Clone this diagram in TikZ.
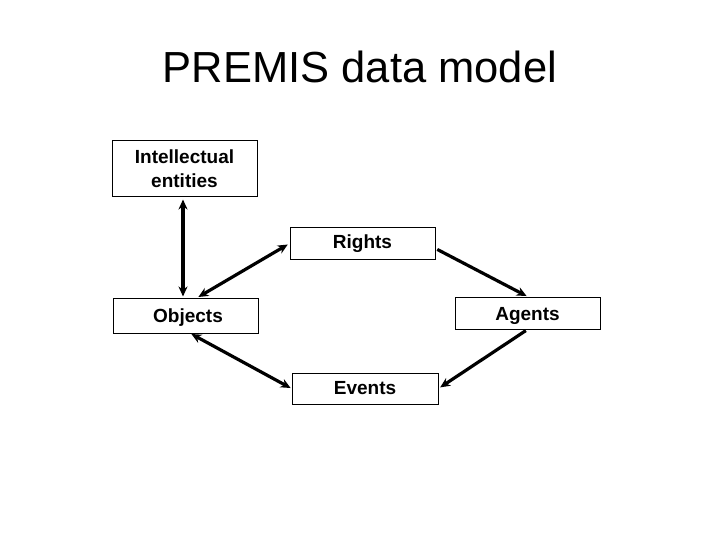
\documentclass[tikz,border=0pt]{standalone}
\usepackage{fontspec}
\setmainfont{Liberation Sans}
\usetikzlibrary{arrows.meta,calc}
\newcommand{\lowtext}[1]{\raisebox{-2.5pt}[\height][\depth]{#1}}
\begin{document}
\begin{tikzpicture}[x=1pt,y=-1pt,
  box/.style={draw=black,line width=1pt,inner sep=0pt,minimum width=145pt,align=center,font=\fontsize{19}{24}\selectfont\bfseries},
  link/.style={line width=3.2pt,-{Stealth[length=10pt,width=9pt]}},
  biline/.style={line width=3.2pt,{Stealth[length=10pt,width=9pt]}-{Stealth[length=10pt,width=9pt]}}]
\useasboundingbox[fill=white] (0,0) rectangle (720,540);
\node[font=\fontsize{43.5}{50}\selectfont,anchor=base] (title) at (360,83) {PREMIS data model};
\node[box,minimum height=56pt] (ie) at (184.5,169) {Intellectual\\entities};
\node[box,minimum height=31pt] (rights) at (362.5,243.5) {Rights};
\node[box,minimum height=35pt] (objects) at (185.5,315.5) {\hspace*{5pt}\lowtext{Objects}};
\node[box,minimum height=32pt] (agents) at (527.5,313) {\lowtext{Agents}};
\node[box,minimum height=31pt,minimum width=146pt] (events) at (365,388.5) {Events};
\draw[biline,shorten <=2pt,shorten >=1pt] ([xshift=-1.5pt]ie.south) -- ([xshift=-2.5pt]objects.north);
\draw[biline,shorten <=2pt,shorten >=1pt] (rights.west) -- ([xshift=12pt]objects.north);
\draw[link,shorten <=2pt,shorten >=1pt] ([yshift=-5pt]rights.east) -- (agents.north);
\draw[link,shorten <=2pt,shorten >=2pt] (agents.south) -- (events.east);
\draw[biline,shorten <=1pt,shorten >=1pt] ([xshift=5pt]objects.south) -- (events.west);
\end{tikzpicture}
\end{document}
